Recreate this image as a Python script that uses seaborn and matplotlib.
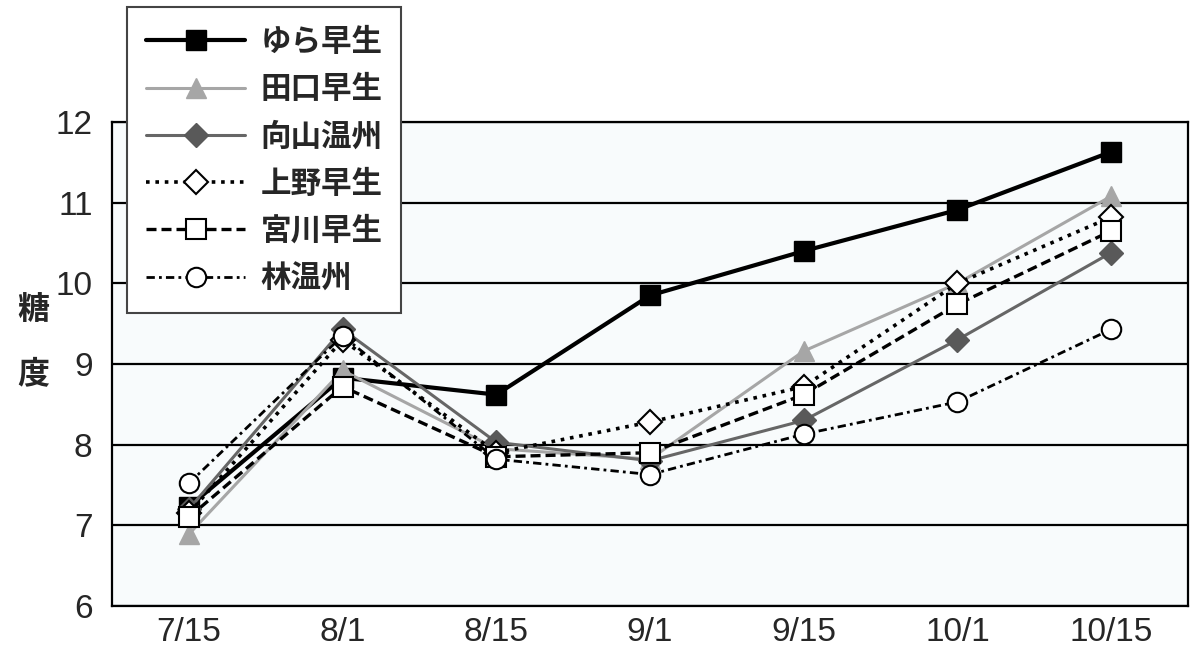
import matplotlib
matplotlib.use("Agg")
import matplotlib.pyplot as plt
import seaborn as sns
import pandas as pd
import numpy as np

dates = ["7/15", "8/1", "8/15", "9/1", "9/15", "10/1", "10/15"]
yura = [7.23, 8.83, 8.62, 9.85, 10.40, 10.91, 11.63]
taguchi = [6.89, 8.92, 7.95, 7.82, 9.16, 10.00, 11.08]
mukaiyama = [7.20, 9.43, 8.03, 7.80, 8.30, 9.30, 10.38]
ueno = [7.15, 9.30, 7.90, 8.28, 8.72, 10.00, 10.82]
miyagawa = [7.10, 8.72, 7.85, 7.90, 8.62, 9.74, 10.65]
hayashi = [7.52, 9.35, 7.82, 7.63, 8.13, 8.53, 9.43]

names = ["ゆら早生", "田口早生", "向山温州", "上野早生", "宮川早生", "林温州"]
series = [yura, taguchi, mukaiyama, ueno, miyagawa, hayashi]

styles = [
    dict(color="black", ls="-", lw=3.0, marker="s", mfc="black", mec="black", ms=14),
    dict(color="#a6a6a6", ls="-", lw=2.2, marker="^", mfc="#a6a6a6", mec="#a6a6a6", ms=15),
    dict(color="#666666", ls="-", lw=2.2, marker="D", mfc="#595959", mec="#595959", ms=12),
    dict(color="black", ls=(0, (1, 1.6)), lw=2.6, marker="D", mfc="white", mec="black", ms=12, mew=1.5),
    dict(color="black", ls=(0, (3, 1.5)), lw=2.4, marker="s", mfc="white", mec="black", ms=14, mew=1.5),
    dict(color="black", ls=(0, (3, 1.5, 1, 1.5)), lw=2.0, marker="o", mfc="white", mec="black", ms=14, mew=1.5),
]

sns.set_style("white")
plt.rcParams["font.family"] = ["Liberation Sans", "Noto Sans CJK JP", "DejaVu Sans"]

fig = plt.figure(figsize=(11.95, 6.6), dpi=100)
ax = fig.add_axes([112 / 1195, 1 - 606 / 660, (1188 - 112) / 1195, (606 - 122) / 660])
ax.set_facecolor("#f8fbfc")

xs = np.arange(len(dates))
handles = []
for name, vals, st in zip(names, series, styles):
    df = pd.DataFrame({"x": xs, "y": vals})
    sns.lineplot(data=df, x="x", y="y", ax=ax, color=st["color"], linestyle=st["ls"],
                 linewidth=st["lw"], marker=st["marker"], markerfacecolor=st["mfc"],
                 markeredgecolor=st["mec"], markersize=st["ms"],
                 markeredgewidth=st.get("mew", 1.0), label=name, legend=False)
    h, = ax.plot([], [], color=st["color"], linestyle=st["ls"], linewidth=st["lw"],
                 marker=st["marker"], markerfacecolor=st["mfc"], markeredgecolor=st["mec"],
                 markersize=st["ms"], markeredgewidth=st.get("mew", 1.0))
    handles.append(h)

ax.set_xlim(-0.5, 6.5)
ax.set_ylim(6, 12)
ax.set_yticks([6, 7, 8, 9, 10, 11, 12])
ax.set_xticks(xs)
ax.set_xticklabels(dates)
ax.set_xticks(np.arange(0.5, 6.5, 1.0), minor=True)
ax.tick_params(axis="x", which="major", length=0, labelsize=24, pad=8)
ax.tick_params(axis="x", which="minor", direction="in", length=7, width=1.5, color="black")
ax.tick_params(axis="y", which="major", direction="out", length=6, width=1.5, color="black",
               labelsize=24, pad=8)
ax.yaxis.grid(True, color="black", linewidth=1.6)
ax.set_axisbelow(True)
for sp in ax.spines.values():
    sp.set_color("black")
    sp.set_linewidth(1.6)
ax.set_xlabel("")
ax.set_ylabel("")

fig.text(33 / 1195, 1 - 342 / 660, "糖\n度", fontsize=23, fontweight="bold",
         ha="center", va="center", family=["Noto Sans CJK JP"], linespacing=2.3)

leg = fig.legend(handles, names, loc="upper left", bbox_to_anchor=(127 / 1195, 1 - 7 / 660),
                 frameon=True, fancybox=False, handlelength=3.25, handletextpad=0.5,
                 labelspacing=0.5, borderpad=0.62, borderaxespad=0,
                 prop={"family": ["Noto Sans CJK JP"], "size": 22, "weight": "bold"})
leg.get_frame().set_edgecolor("#444444")
leg.get_frame().set_linewidth(1.5)
leg.get_frame().set_facecolor("white")
leg.get_frame().set_alpha(1)

fig.savefig("out.png", dpi=100, facecolor="white")
